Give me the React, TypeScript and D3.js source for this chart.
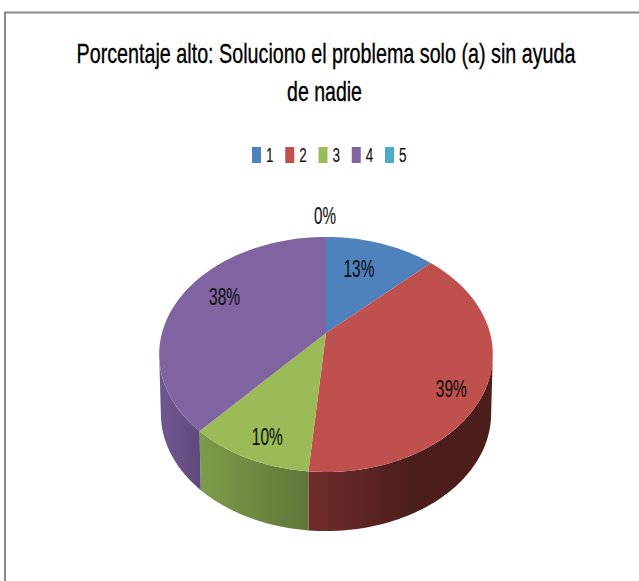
import React, { useLayoutEffect, useRef } from "react";
import * as d3 from "d3";

const categories = ["1", "2", "3", "4", "5"];
const shares = [12.8, 38.6, 10.2, 38.4, 0];
const colors = ["#4f81bd", "#c0504d", "#9bbb59", "#8064a2", "#4bacc6"];
const wallDark = ["#3a5f8c", "#4b1e1c", "#5f7638", "#5f4a7c", "#35798c"];
const wallLight = ["#4a70a0", "#702c2c", "#7d9c4a", "#6f5890", "#4090a8"];
const titleLines = ["Porcentaje alto: Soluciono el problema solo (a) sin ayuda", "de nadie"];

const W = 639, H = 581;
const cx = 326, cy = 333, a = 164, b = 113.6, k = 0.183, depth = 59, shrink = 0.99;
const font = "'Liberation Sans', Arial, sans-serif";

// perspective projection of the pie disc
const project = (t: number, z = 0): [number, number] => {
  const u = Math.sin(t), v = -Math.cos(t), d = 1 - k * v;
  const s = z ? shrink : 1;
  return [cx + (s * a * u) / d, cy + (b * v) / d + z];
};
const samples = (t0: number, t1: number, z = 0) =>
  d3.range(0, 61).map((i) => project(t0 + ((t1 - t0) * i) / 60, z));
const line = d3.line();

const arcs = d3.pie<number>().sort(null)(shares);
const TAU = Math.PI * 2;
const visFrom = Math.asin(k) + Math.PI / 2;
const visTo = TAU - visFrom;

const topPath = (s: d3.PieArcDatum<number>) =>
  line([[cx, cy], ...samples(s.startAngle, s.endAngle)]) + "Z";

const labelRadial = [0.6, 0.78, 0.75, 0.705];
const labelDrop = [-2, 22, 18, -1];
const labelAnchor = (s: d3.PieArcDatum<number>, i: number): [number, number] => {
  if (s.value === 0) return [cx - 1, 224];
  const [px, py] = project((s.startAngle + s.endAngle) / 2);
  const f = labelRadial[i];
  return [cx + (px - cx) * f, cy + (py - cy) * f + labelDrop[i]];
};
const fmt = (v: number) => `${Math.round(v)}%`;

const legendX = d3.scalePoint<string>().domain(categories).range([252, 385]);

// text squeezed horizontally to a given width, like the reference's narrow face
function FitText({ x, y, width, size, weight, fill, children }: any) {
  const ref = useRef<SVGTextElement>(null);
  useLayoutEffect(() => {
    const el = ref.current!;
    const sx = width / el.getComputedTextLength();
    el.setAttribute("transform", `translate(${x},${y}) scale(${sx},1)`);
  }, [x, y, width]);
  return (
    <text ref={ref} textAnchor="middle" fontSize={size} fill={fill}
      stroke={fill} strokeWidth={weight} transform={`translate(${x},${y})`}>{children}</text>
  );
}

export default function App() {
  const walls = arcs
    .map((s, i) => ({ i, t0: Math.max(s.startAngle, visFrom), t1: Math.min(s.endAngle, visTo) }))
    .filter((w) => w.t1 > w.t0);
  return (
    <svg width={W} height={H} style={{ position: "absolute", left: 0, top: 0 }} fontFamily={font}>
      <defs>
        {walls.map((w) => {
          const x0 = project(w.t0)[0], x1 = project(w.t1)[0];
          return (
            <linearGradient key={w.i} id={`w${w.i}`} gradientUnits="userSpaceOnUse"
              x1={Math.min(x0, x1)} x2={Math.max(x0, x1) - (w.i === 1 ? 80 : 0)} y1={0} y2={0}>
              <stop offset="0" stopColor={wallLight[w.i]} />
              <stop offset="1" stopColor={wallDark[w.i]} />
            </linearGradient>
          );
        })}
      </defs>
      <rect width={W} height={H} fill="#fff" />
      <path d={`M5 581V12.5H639`} fill="none" stroke="#8a8a8a" strokeWidth={2} />
      {titleLines.map((t, i) => (
        <FitText key={t} x={i ? 324.5 : 326} y={i ? 101 : 63} width={i ? 75 : 499} size={28} weight={0.35} fill="#000">{t}</FitText>
      ))}
      {categories.map((c) => {
        const x = legendX(c)!;
        return (
          <g key={c}>
            <rect x={x} y={147} width={9} height={16} fill={colors[categories.indexOf(c)]} />
            <FitText x={x + 17.7} y={162} width={7.5} size={21} weight={0.15} fill="#111">{c}</FitText>
          </g>
        );
      })}
      {walls.map((w) => (
        <path key={w.i} fill={`url(#w${w.i})`}
          d={line([...samples(w.t0, w.t1), ...samples(w.t1, w.t0, depth)]) + "Z"} />
      ))}
      {arcs.map((s, i) => s.value > 0 && <path key={i} d={topPath(s)} fill={colors[i]} />)}
      {arcs.map((s, i) => {
        const [x, y] = labelAnchor(s, i);
        return (
          <FitText key={i} x={x} y={y} width={s.value === 0 ? 22 : 31} size={24} weight={0.15} fill="#111">{fmt(s.value)}</FitText>
        );
      })}
    </svg>
  );
}
